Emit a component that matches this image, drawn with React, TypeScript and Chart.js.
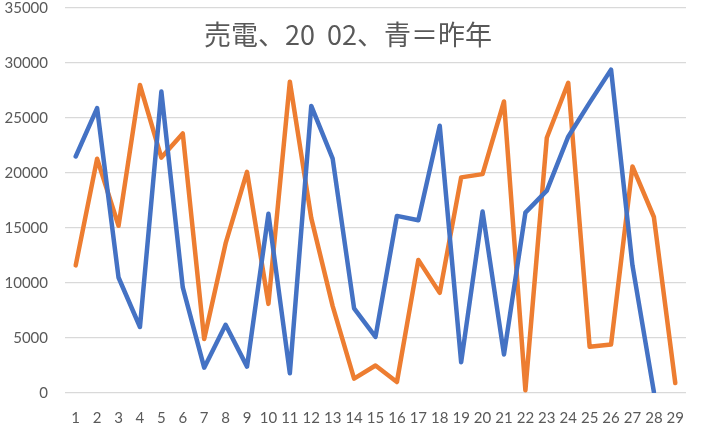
import React, { useEffect, useRef } from "react";
import { Chart, registerables } from "chart.js";

Chart.register(...registerables);

const categories = ["1","2","3","4","5","6","7","8","9","10","11","12","13","14","15","16","17","18","19","20","21","22","23","24","25","26","27","28","29"];
const lastYear: (number | null)[] = [21500, 25900, 10500, 6000, 27400, 9600, 2300, 6200, 2400, 16300, 1800, 26100, 21300, 7700, 5100, 16100, 15700, 24300, 2800, 16500, 3500, 16400, 18400, 23300, 26400, 29400, 11600, 100, null];
const thisYear: (number | null)[] = [11600, 21300, 15200, 28000, 21400, 23600, 4900, 13600, 20100, 8100, 28300, 15900, 7900, 1300, 2500, 1000, 12100, 9100, 19600, 19900, 26500, 250, 23200, 28200, 4200, 4400, 20600, 16000, 900];
const titleText = "売電、20  02、青＝昨年";

const titlePlugin = {
  id: "overlayTitle",
  afterDatasetsDraw(chart: any) {
    const ctx = chart.ctx;
    ctx.save();
    ctx.font = '27px "Noto Sans CJK JP"';
    ctx.fillStyle = "#595959";
    ctx.textAlign = "center";
    ctx.textBaseline = "middle";
    ctx.fillText(titleText, 348, 35);
    ctx.restore();
  },
};

export default function App() {
  const ref = useRef<HTMLCanvasElement>(null);
  useEffect(() => {
    if (!ref.current) return;
    const chart = new Chart(ref.current, {
      type: "line",
      data: {
        labels: categories,
        datasets: [
          {
            label: "昨年",
            data: lastYear,
            borderColor: "#4472C4",
            backgroundColor: "#4472C4",
            borderWidth: 4.5,
            pointRadius: 0,
            tension: 0,
            borderJoinStyle: "round",
            borderCapStyle: "round",
          },
          {
            label: "今年",
            data: thisYear,
            borderColor: "#ED7D31",
            backgroundColor: "#ED7D31",
            borderWidth: 4.5,
            pointRadius: 0,
            tension: 0,
            borderJoinStyle: "round",
            borderCapStyle: "round",
          },
        ],
      },
      options: {
        animation: false,
        responsive: true,
        maintainAspectRatio: false,
        layout: { padding: { top: 8, right: 16, left: 0, bottom: 0 } },
        plugins: { legend: { display: false }, tooltip: { enabled: false } },
        scales: {
          x: {
            offset: true,
            grid: { display: false, drawTicks: false },
            border: { display: false },
            ticks: {
              autoSkip: false,
              maxRotation: 0,
              padding: 16,
              color: "#595959",
              font: { family: "Lato", size: 15 },
            },
            afterFit(scale: any) {
              scale.height = 34;
              scale.paddingLeft = 0;
              scale.paddingRight = 0;
            },
          },
          y: {
            min: 0,
            max: 35000,
            ticks: {
              stepSize: 5000,
              padding: 17,
              color: "#595959",
              font: { family: "Lato", size: 15 },
              callback: (v: any) => String(v),
            },
            grid: { color: "#d9d9d9", lineWidth: 1.3, drawTicks: false },
            border: { display: false },
            afterFit(scale: any) {
              scale.width = 65;
              scale.paddingTop = 0;
              scale.paddingBottom = 0;
            },
          },
        },
      },
      plugins: [titlePlugin],
    });
    return () => chart.destroy();
  }, []);
  return (
    <div style={{ position: "fixed", left: 0, top: 0, width: 702, height: 427, background: "#fff" }}>
      <canvas ref={ref} />
    </div>
  );
}
